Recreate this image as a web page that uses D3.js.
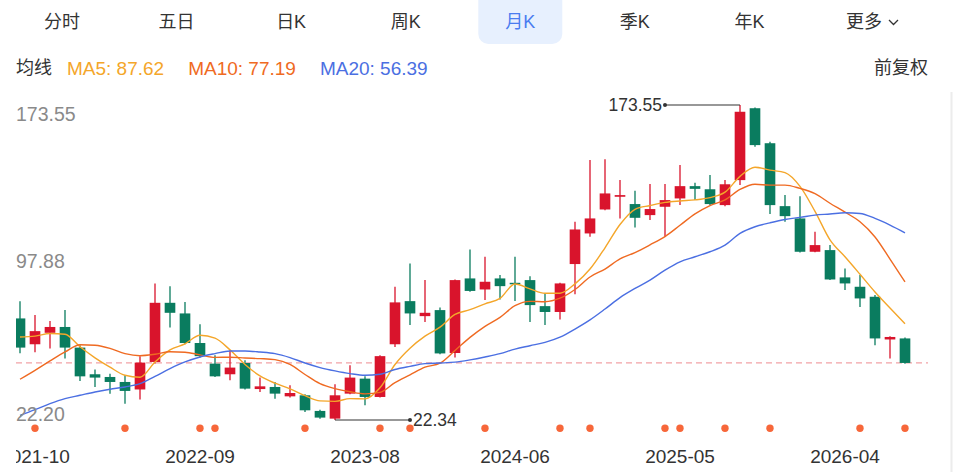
<!DOCTYPE html>
<html>
<head>
<meta charset="utf-8">
<script src="https://cdn.jsdelivr.net/npm/d3@7"></script>
<style>
    html, body { margin: 0; padding: 0; background: #fff; }
    svg { display: block; font-family: "Liberation Sans", Arial, "Noto Sans CJK SC", sans-serif; }
</style>
</head>
<body>
<svg id="chart" width="956" height="472"></svg>
<script>
'use strict';

// monthly candles, 2021-09 .. 2026-08
var months = [
    '2021-09', '2021-10', '2021-11', '2021-12',
    '2022-01', '2022-02', '2022-03', '2022-04', '2022-05', '2022-06', '2022-07', '2022-08', '2022-09', '2022-10', '2022-11', '2022-12',
    '2023-01', '2023-02', '2023-03', '2023-04', '2023-05', '2023-06', '2023-07', '2023-08', '2023-09', '2023-10', '2023-11', '2023-12',
    '2024-01', '2024-02', '2024-03', '2024-04', '2024-05', '2024-06', '2024-07', '2024-08', '2024-09', '2024-10', '2024-11', '2024-12',
    '2025-01', '2025-02', '2025-03', '2025-04', '2025-05', '2025-06', '2025-07', '2025-08', '2025-09', '2025-10', '2025-11', '2025-12',
    '2026-01', '2026-02', '2026-03', '2026-04', '2026-05', '2026-06', '2026-07', '2026-08'
];

var openPrices = [
    71.1, 58.7, 64.2, 67.0, 57.1, 44.3, 43.0, 40.6, 37.0, 50.2,
    78.6, 73.5, 59.3, 49.4, 44.3, 49.7, 37.2, 38.2, 33.7, 34.2,
    26.7, 23.0, 35.0, 42.2, 33.4, 58.7, 79.4, 72.2, 75.1, 54.5,
    90.3, 85.0, 90.3, 88.2, 89.5, 77.0, 74.2, 97.2, 111.9, 123.4,
    129.5, 126.0, 120.7, 124.7, 128.7, 134.6, 133.1, 125.5, 137.5, 172.0,
    155.2, 125.0, 119.1, 103.1, 103.9, 90.8, 86.3, 81.5, 61.0, 61.5
];
var highPrices = [
    79.4, 72.7, 69.9, 75.1, 58.2, 46.6, 44.6, 43.8, 53.0, 87.9,
    86.6, 79.0, 68.3, 53.4, 55.8, 51.0, 42.7, 40.6, 39.0, 34.7,
    27.3, 39.5, 48.6, 43.3, 53.4, 86.3, 97.5, 89.5, 76.4, 89.8,
    104.2, 100.7, 91.9, 100.7, 91.4, 83.1, 88.2, 117.5, 147.1, 147.5,
    137.5, 132.4, 135.6, 135.6, 144.7, 136.2, 139.9, 137.5, 173.55, 172.3,
    155.9, 130.3, 129.8, 112.7, 106.3, 95.1, 91.9, 82.3, 62.5, 61.9
];
var lowPrices = [
    54.4, 54.9, 56.7, 51.9, 41.1, 38.2, 35.0, 30.2, 32.2, 49.4,
    66.7, 58.7, 52.3, 43.0, 41.4, 37.0, 35.8, 32.6, 33.1, 26.2,
    23.0, 22.34, 34.7, 29.4, 33.2, 57.4, 67.9, 69.4, 53.9, 52.3,
    83.9, 79.9, 80.2, 79.5, 69.4, 67.9, 70.6, 82.7, 110.3, 123.0,
    119.1, 114.8, 118.3, 110.3, 125.5, 127.9, 125.5, 125.0, 135.1, 153.5,
    121.2, 117.5, 102.8, 102.9, 89.5, 84.7, 76.6, 58.2, 51.9, 49.4
];
var closePrices = [
    57.1, 65.0, 67.0, 57.1, 43.3, 42.7, 40.6, 36.3, 49.9, 78.6,
    73.8, 59.3, 53.0, 43.3, 47.5, 37.4, 38.5, 35.0, 35.3, 27.0,
    23.5, 34.2, 42.7, 33.4, 53.0, 78.8, 73.5, 73.8, 54.3, 89.5,
    84.3, 88.7, 86.6, 87.9, 77.5, 74.2, 87.9, 113.8, 119.1, 131.1,
    130.3, 119.4, 123.6, 127.9, 134.6, 133.3, 126.0, 135.5, 170.3, 154.3,
    125.5, 120.2, 103.1, 106.3, 89.8, 87.9, 80.7, 61.5, 62.2, 49.73
];

var ma5 = [
    62.2, 62.6, 63.9, 63.5, 57.5, 52.2, 47.7, 43.8, 42.9, 50.2,
    56.0, 58.9, 63.0, 61.6, 56.0, 49.0, 43.5, 40.0, 37.3, 34.0,
    31.5, 31.3, 32.6, 32.5, 37.8, 49.0, 56.8, 62.6, 66.9, 73.0,
    75.3, 78.1, 80.7, 87.62, 85.3, 83.2, 83.2, 87.7, 94.8, 105.0,
    116.2, 123.5, 125.3, 126.8, 127.5, 128.0, 129.1, 131.7, 139.3, 143.7,
    142.3, 141.1, 134.5, 122.5, 108.8, 100.7, 92.3, 83.8, 76.1, 68.5
];
var ma10 = [
    41.9, 46.2, 50.7, 55.0, 58.5, 58.2, 56.7, 54.2, 53.2, 53.9,
    55.1, 54.9, 53.6, 52.4, 52.5, 52.1, 51.8, 51.3, 49.0, 44.2,
    39.8, 37.4, 35.9, 34.9, 35.6, 40.3, 44.0, 47.7, 49.6, 55.7,
    62.0, 67.3, 71.6, 77.19, 79.3, 79.1, 80.8, 85.0, 91.0, 94.8,
    99.7, 102.7, 106.4, 110.4, 115.8, 121.3, 125.3, 128.0, 133.0, 135.5,
    135.1, 135.1, 133.5, 131.0, 126.4, 122.1, 117.5, 110.2, 99.6, 88.6
];
var ma20 = [
    24.6, 27.3, 30.2, 32.6, 34.2, 35.8, 37.1, 38.2, 39.8, 43.3,
    47.0, 50.2, 52.6, 54.2, 55.5, 55.5, 55.0, 54.2, 52.3, 49.7,
    47.5, 45.9, 44.6, 43.8, 44.3, 46.6, 48.1, 49.4, 49.7, 50.1,
    51.2, 52.6, 54.2, 56.39, 58.0, 59.6, 62.1, 66.0, 70.4, 75.6,
    81.1, 85.5, 89.5, 94.3, 98.3, 100.7, 103.1, 106.3, 111.9, 115.1,
    117.0, 118.6, 119.6, 120.7, 121.2, 121.8, 121.5, 119.1, 115.9, 112.2
];

var tickMonths = ['2021-10', '2022-09', '2023-08', '2024-06', '2025-05', '2026-04'];
var yTicks = [22.20, 97.88, 173.55];
var markerMonths = ['2021-10', '2022-04', '2022-09', '2022-10', '2023-04', '2023-09', '2023-11', '2024-04',
    '2024-09', '2024-11', '2025-04', '2025-05', '2025-08', '2025-11', '2026-05', '2026-08'];
var legendMonth = '2024-06';
var tabs = ['分时', '五日', '日K', '周K', '月K', '季K', '年K', '更多'];
var activeTab = '月K';

var upColor = '#d9142c', downColor = '#0a7c5f';
var maSeries = [
    {name: 'MA5', values: ma5, color: '#f4a62a'},
    {name: 'MA10', values: ma10, color: '#ef6a22'},
    {name: 'MA20', values: ma20, color: '#4b6fe2'}
];

var svg = d3.select('#chart');

// ---- tab bar
var tabX = d3.scalePoint().domain(tabs).range([62, 864]);

svg.append('rect')
    .attr('x', tabX(activeTab) - 42).attr('y', -10)
    .attr('width', 84).attr('height', 54)
    .attr('rx', 10)
    .attr('fill', '#e7f0fe');

svg.selectAll('.tab')
    .data(tabs)
    .enter().append('text')
    .attr('class', 'tab')
    .attr('x', function (d) { return tabX(d); })
    .attr('y', 22)
    .attr('dy', '0.35em')
    .attr('text-anchor', 'middle')
    .attr('font-size', 18)
    .attr('fill', function (d) { return d === activeTab ? '#4a7cf0' : '#333'; })
    .text(function (d) { return d; });

svg.append('path')
    .attr('d', 'M' + (tabX('更多') + 25) + ',20 l4.5,4.5 l4.5,-4.5')
    .attr('fill', 'none')
    .attr('stroke', '#333')
    .attr('stroke-width', 1.3);

// ---- legend row
var li = months.indexOf(legendMonth);
var legendY = 68;
var lx = 16;
var lab = svg.append('text')
    .attr('x', lx).attr('y', legendY).attr('dy', '0.35em')
    .attr('font-size', 18).attr('fill', '#333')
    .text('均线');
lx += lab.node().getComputedTextLength() + 15;
maSeries.forEach(function (s) {
    var t = svg.append('text')
        .attr('x', lx).attr('y', legendY).attr('dy', '0.35em')
        .attr('font-size', 19).attr('fill', s.color)
        .text(s.name + ': ' + s.values[li].toFixed(2));
    lx += t.node().getComputedTextLength() + 24;
});
svg.append('text')
    .attr('x', 928).attr('y', legendY).attr('dy', '0.35em')
    .attr('text-anchor', 'end')
    .attr('font-size', 18).attr('fill', '#333')
    .text('前复权');

// ---- scales
var x = d3.scalePoint().domain(months).range([20, 905]);
var step = x.step();
var bodyW = step * 0.71;
var y = d3.scaleLinear().domain([yTicks[0], yTicks[2]]).range([420.3, 105]);

svg.append('line')
    .attr('x1', 951.5).attr('x2', 951.5)
    .attr('y1', 92).attr('y2', 472)
    .attr('stroke', '#ececec').attr('stroke-width', 2);

svg.append('clipPath').attr('id', 'plotClip')
    .append('rect').attr('x', 16).attr('y', 88).attr('width', 922).attr('height', 384);

var plot = svg.append('g').attr('clip-path', 'url(#plotClip)');

// y labels
svg.selectAll('.ylab')
    .data(yTicks)
    .enter().append('text')
    .attr('class', 'ylab')
    .attr('x', 16)
    .attr('y', function (d, i) {
        if (i === 0) return y(d) + 1;
        if (i === yTicks.length - 1) return y(d) + 2;
        return y(d) - 1;
    })
    .attr('dy', function (d, i) {
        if (i === 0) return '0';
        if (i === yTicks.length - 1) return '0.72em';
        return '0.35em';
    })
    .attr('font-size', 19.5)
    .attr('fill', '#8a8a8a')
    .text(function (d) { return d.toFixed(2); });

// last price line
var lastClose = closePrices[closePrices.length - 1];
plot.append('line')
    .attr('x1', 16).attr('x2', 928)
    .attr('y1', y(lastClose)).attr('y2', y(lastClose))
    .attr('stroke', '#f2a2a6')
    .attr('stroke-width', 1.3)
    .attr('stroke-dasharray', '6,4');

// candles
var candles = months.map(function (m, i) {
    return {month: m, o: openPrices[i], h: highPrices[i], l: lowPrices[i], c: closePrices[i]};
});

var cg = plot.selectAll('.candle')
    .data(candles)
    .enter().append('g')
    .attr('class', 'candle');

cg.append('line')
    .attr('x1', function (d) { return x(d.month); })
    .attr('x2', function (d) { return x(d.month); })
    .attr('y1', function (d) { return y(d.h); })
    .attr('y2', function (d) { return y(d.l); })
    .attr('stroke', function (d) { return d.c >= d.o ? upColor : downColor; })
    .attr('stroke-width', 1.3);

cg.append('rect')
    .attr('x', function (d) { return x(d.month) - bodyW / 2; })
    .attr('y', function (d) { return y(Math.max(d.o, d.c)); })
    .attr('width', bodyW)
    .attr('height', function (d) { return Math.max(1.5, Math.abs(y(d.o) - y(d.c))); })
    .attr('fill', function (d) { return d.c >= d.o ? upColor : downColor; });

// moving averages
var line = d3.line()
    .x(function (d, i) { return x(months[i]); })
    .y(function (d) { return y(d); })
    .curve(d3.curveMonotoneX);

plot.selectAll('.ma')
    .data(maSeries)
    .enter().append('path')
    .attr('class', 'ma')
    .attr('d', function (s) { return line(s.values); })
    .attr('fill', 'none')
    .attr('stroke', function (s) { return s.color; })
    .attr('stroke-width', 1.4);

// high / low annotations
var hiIdx = d3.maxIndex(highPrices), loIdx = d3.minIndex(lowPrices);
var annLen = 75;
[
    {i: hiIdx, v: highPrices[hiIdx], dir: -1},
    {i: loIdx, v: lowPrices[loIdx], dir: 1}
].forEach(function (a) {
    var x0 = x(months[a.i]), x1 = x0 + a.dir * annLen, yy = y(a.v);
    plot.append('line')
        .attr('x1', x0).attr('x2', x1).attr('y1', yy).attr('y2', yy)
        .attr('stroke', '#333').attr('stroke-width', 1.2);
    plot.append('circle')
        .attr('cx', x1).attr('cy', yy).attr('r', 2)
        .attr('fill', '#333');
    plot.append('text')
        .attr('x', x1 + a.dir * 3).attr('y', yy).attr('dy', '0.35em')
        .attr('text-anchor', a.dir < 0 ? 'end' : 'start')
        .attr('font-size', 17.5).attr('fill', '#333')
        .text(a.v.toFixed(2));
});

// event markers
plot.selectAll('.marker')
    .data(markerMonths)
    .enter().append('circle')
    .attr('class', 'marker')
    .attr('cx', function (d) { return x(d); })
    .attr('cy', 428.3)
    .attr('r', 3.7)
    .attr('fill', '#f7673a');

// x labels
plot.selectAll('.xlab')
    .data(tickMonths)
    .enter().append('text')
    .attr('class', 'xlab')
    .attr('x', function (d) { return x(d); })
    .attr('y', 462.5)
    .attr('text-anchor', 'middle')
    .attr('font-size', 19)
    .attr('fill', '#333')
    .text(function (d) { return d; });
</script>
</body>
</html>
